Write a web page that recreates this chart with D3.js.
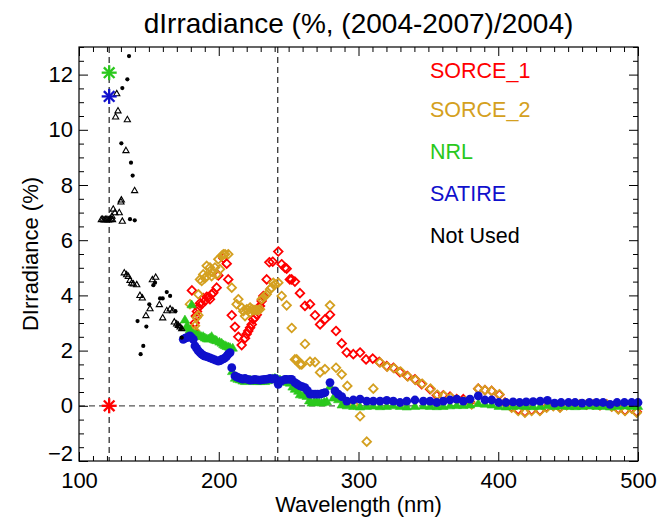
<!DOCTYPE html>
<html><head><meta charset="utf-8">
<script src="https://cdn.jsdelivr.net/npm/d3@7"></script>
<style>
html,body{margin:0;padding:0;background:#fff;}
svg{display:block;font-family:"Liberation Sans",Arial,sans-serif;}
</style></head>
<body><svg id="c" width="659" height="518"></svg>
<script>
// ---------------- data ----------------
const TITLE = "dIrradiance (%, (2004-2007)/2004)";
const X_LABEL = "Wavelength (nm)";
const Y_LABEL = "DIrradiance (%)";
const X_TICKS = [100, 200, 300, 400, 500];
const Y_TICKS = [-2, 0, 2, 4, 6, 8, 10, 12];
const X_DOMAIN = [100, 500];
const Y_DOMAIN = [-2, 13];
const V_LINES = [121.6, 242.2];
const H_LINES = [0];
const LEGEND = ["SORCE_1", "SORCE_2", "NRL", "SATIRE", "Not Used"];

const sorce1 = [
[180.8,4.18],[181.8,2.75],[182.8,3.00],[183.6,3.25],[184.4,3.42],[185.4,3.56],[186.6,3.72],[187.8,3.68],
[188.9,3.90],[190.1,3.80],[191.4,3.95],[192.5,3.92],[193.7,3.86],[194.9,4.04],[196.1,4.10],[198.5,4.28],
[199.7,4.72],[203.3,5.35],[205.7,5.15],[206.8,4.58],[209.3,3.28],[211.6,2.86],[214.0,2.50],[216.4,2.20],
[218.8,2.45],[220.0,2.60],[221.1,2.71],[222.4,2.83],[223.6,2.95],[224.7,3.13],[225.9,3.20],[227.2,3.30],
[228.3,3.50],[229.5,3.62],[230.7,3.80],[231.9,3.98],[234.3,4.58],[236.2,5.20],[238.6,5.22],[242.6,5.59],
[245.0,5.13],[247.4,5.00],[248.6,4.97],[250.9,4.58],[252.2,4.58],[254.5,4.50],[258.1,4.08],[261.7,3.62],
[265.3,3.68],[268.9,3.28],[272.5,2.95],[276.0,3.13],[279.6,3.30],[283.9,2.71],[288.0,2.26],[291.6,1.93],
[296.3,1.87],[301.1,1.93],[305.4,1.68],[310.2,1.71],[314.9,1.59],[320.2,1.44],[325.0,1.38],[329.7,1.22],
[334.9,1.08],[340.4,0.96],[345.2,0.78],[351.2,0.60],[356.0,0.38],[360.7,0.38],[365.5,0.33],[370.3,0.24],
[375.0,0.24],[379.8,0.14],[385.7,0.62],[390.5,0.57],[395.3,0.54],[400.8,0.40],[404.8,0.12],[409.6,-0.05],
[414.3,-0.15],[419.1,-0.22],[423.9,-0.16],[429.8,-0.17],[434.6,-0.05],[439.4,0.00],[444.2,-0.05],[449.0,0.03],
[453.7,0.05],[458.5,0.05],[463.3,0.04],[468.1,0.05],[472.8,0.02],[477.6,0.05],[481.2,-0.02],[485.9,-0.11],
[490.7,-0.17],[495.5,-0.08],[499.1,-0.22]
];

const sorce2 = [
[179.4,3.68],[183.0,2.72],[183.0,2.90],[184.2,3.20],[185.4,3.28],[185.4,4.04],[186.6,4.58],[187.8,4.52],
[188.9,4.76],[190.1,4.62],[191.4,4.70],[191.4,5.07],[193.7,5.01],[194.9,4.70],[195.5,4.85],[197.3,5.01],
[198.5,4.76],[199.7,5.31],[200.9,4.95],[202.1,5.43],[203.3,5.49],[204.5,5.49],[206.8,5.49],[209.3,4.28],
[212.8,3.68],[214.0,3.86],[216.4,3.56],[217.6,3.43],[218.8,3.25],[220.0,3.50],[221.1,3.47],[222.4,3.38],
[222.4,3.56],[223.6,3.50],[224.7,3.47],[225.9,3.47],[227.2,3.47],[228.3,3.47],[229.5,3.50],[230.7,3.86],
[231.9,3.92],[233.1,3.98],[234.3,4.04],[236.7,4.22],[237.8,4.28],[239.0,4.46],[240.2,4.40],[242.6,4.46],
[245.0,3.98],[248.6,3.64],[252.2,2.82],[254.5,1.68],[255.8,1.68],[258.1,1.50],[259.4,1.50],[261.7,2.24],
[265.3,1.60],[268.9,1.58],[272.5,1.21],[276.0,1.33],[279.6,3.64],[283.9,1.38],[288.0,1.14],[292.0,0.72],
[296.5,0.05],[301.1,-0.38],[305.9,-1.30],[310.6,0.62],[315.4,1.57],[320.6,1.42],[325.4,1.36],[330.2,1.24],
[335.3,1.06],[340.8,0.94],[345.6,0.80],[351.6,0.62],[356.4,0.40],[361.1,0.37],[366.0,0.30],[370.8,0.22],
[376.2,0.17],[381.0,0.05],[385.7,0.62],[390.5,0.57],[395.3,0.54],[400.8,0.42],[404.8,0.12],[409.6,-0.07],
[414.3,-0.19],[419.1,-0.25],[423.9,-0.19],[429.8,-0.19],[434.6,-0.07],[439.4,-0.01],[444.2,-0.07],[449.0,0.02],
[453.7,0.05],[458.5,0.05],[463.3,0.05],[468.1,0.05],[472.8,0.02],[477.6,0.05],[481.2,-0.03],[485.9,-0.13],
[490.7,-0.19],[495.5,-0.10],[499.1,-0.25]
];

const nrl = [
[175.8,3.13],[177.1,2.90],[178.2,2.85],[179.4,2.77],[180.6,3.68],[181.8,2.62],[183.0,2.60],[184.2,2.59],
[185.4,2.57],[186.6,2.55],[187.8,2.53],[188.9,2.53],[190.1,2.48],[191.4,2.45],[192.5,2.44],[193.7,2.47],
[194.9,2.53],[196.5,2.42],[197.5,2.40],[198.5,2.38],[200.5,2.33],[202.1,2.29],[203.3,2.23],[204.5,2.20],
[205.7,2.17],[207.0,2.15],[208.1,2.13],[210.0,2.11],[209.6,1.26],[211.6,1.02],[213.5,0.98],[215.2,0.96],
[217.0,0.92],[218.8,0.90],[220.6,0.93],[222.4,0.96],[224.2,0.92],[225.9,0.90],[227.7,0.90],[229.5,0.90],
[231.3,0.92],[233.1,0.90],[234.9,0.93],[236.7,0.96],[238.5,1.00],[240.2,1.02],[242.0,0.99],[243.8,0.96],
[245.6,0.93],[247.4,0.90],[249.2,0.87],[251.0,0.84],[252.8,0.70],[254.5,0.62],[256.9,0.55],[258.1,0.42],
[260.5,0.40],[262.9,0.36],[264.7,0.20],[266.5,0.12],[268.3,0.15],[270.1,0.17],[271.9,0.14],[273.7,0.12],
[275.5,0.15],[277.3,0.17],[279.6,0.72],[282.0,0.30],[285.5,0.24],[288.0,0.05],[291.6,0.02],[296.3,0.00],
[301.1,-0.02],[305.9,0.00],[310.6,0.01],[315.4,-0.01],[320.2,0.00],[324.9,0.02],[329.7,0.00],[334.5,-0.02],
[340.4,0.00],[346.4,0.01],[351.2,0.00],[356.0,-0.01],[360.7,0.00],[365.5,0.02],[370.3,0.03],[375.0,0.03],
[379.8,0.05],[385.7,0.10],[390.5,0.08],[395.3,0.05],[400.3,0.00],[405.5,-0.02],[410.6,0.00],[415.3,0.01],
[420.0,0.00],[425.0,-0.01],[430.0,0.00],[435.2,0.02],[440.3,0.00],[445.0,0.01],[450.3,0.00],[455.0,-0.01],
[460.0,0.00],[465.2,0.01],[470.3,0.00],[475.0,0.00],[480.0,-0.02],[485.0,0.00],[490.3,0.01],[495.5,0.00],
[500.0,0.00]
];

const satire = [
[174.6,2.41],[176.0,2.45],[177.1,2.47],[178.2,2.50],[179.4,2.53],[180.6,2.47],[181.8,2.41],[183.0,2.17],
[184.2,2.08],[185.4,1.99],[186.6,1.93],[187.8,1.87],[189.0,1.83],[190.1,1.80],[191.9,1.77],[193.7,1.74],
[195.5,1.70],[197.3,1.66],[199.7,1.62],[201.0,1.64],[202.1,1.68],[203.3,1.70],[204.5,1.74],[205.7,1.80],
[206.8,1.87],[208.1,1.93],[209.3,1.38],[211.6,1.08],[212.8,1.05],[214.0,1.02],[215.5,0.99],[217.2,0.97],
[218.8,0.99],[220.6,0.96],[222.4,0.93],[224.2,0.94],[225.9,0.96],[227.7,0.94],[229.5,0.93],[231.3,0.95],
[233.1,0.96],[234.9,0.97],[236.7,0.99],[238.5,0.97],[240.3,0.99],[242.6,0.78],[243.8,0.90],[245.0,0.90],
[247.4,0.96],[248.6,0.96],[251.0,0.96],[252.2,0.96],[254.5,0.84],[256.3,0.78],[258.1,0.72],[259.9,0.69],
[261.7,0.66],[263.5,0.55],[265.3,0.42],[267.1,0.42],[268.9,0.42],[270.7,0.42],[272.5,0.42],[274.3,0.45],
[276.0,0.48],[279.6,0.84],[283.2,0.54],[285.5,0.42],[288.0,0.33],[291.6,0.17],[296.3,0.21],[301.1,0.24],
[305.9,0.17],[310.6,0.17],[315.4,0.17],[320.2,0.20],[324.9,0.17],[329.7,0.12],[334.5,0.17],[340.4,0.21],
[346.4,0.17],[351.2,0.17],[356.0,0.12],[360.7,0.17],[365.5,0.21],[370.3,0.24],[375.0,0.17],[379.8,0.24],
[385.7,0.36],[390.5,0.21],[395.3,0.21],[400.3,0.12],[405.5,0.12],[410.6,0.14],[415.3,0.12],[420.0,0.14],
[425.0,0.15],[430.0,0.17],[435.2,0.20],[440.3,0.10],[445.0,0.12],[450.3,0.12],[455.0,0.12],[460.0,0.10],
[465.2,0.12],[470.3,0.12],[475.0,0.12],[480.0,0.05],[485.0,0.12],[490.3,0.12],[495.5,0.12],[500.0,0.12]
];

const notUsedDots = [
[135.8,12.67],[134.6,11.83],[131.0,11.51],[130.3,9.51],[137.2,8.81],[138.4,8.34],[136.5,6.76],[139.9,6.72],
[153.2,4.37],[154.4,4.46],[162.8,4.12],[165.2,3.98],[158.0,3.89],[159.9,3.89],[150.3,3.68],[169.0,3.43],
[141.9,3.07],[148.2,2.87],[173.5,2.47],[146.0,2.17],[144.1,1.87],[170.5,2.92],[172.9,2.80]
];

const notUsedTri = [
[127.0,11.32],[127.9,10.70],[126.2,10.48],[134.6,10.38],[133.6,9.26],[139.8,7.81],[130.3,7.47],[130.0,7.40],
[124.5,7.14],[125.7,7.01],[128.8,7.01],[123.6,6.88],[116.0,6.76],[117.0,6.77],[118.0,6.75],[119.0,6.76],
[120.0,6.77],[121.0,6.75],[122.0,6.76],[123.0,6.78],[124.0,6.76],[131.0,6.70],[132.4,4.83],[134.1,4.76],
[135.3,4.70],[136.5,4.56],[137.7,4.46],[138.9,4.43],[141.3,4.40],[143.6,4.01],[145.3,3.92],[154.9,4.67],
[152.5,4.58],[157.5,3.68],[150.8,3.53],[162.8,3.46],[165.2,3.52],[167.1,3.46],[147.9,3.28],[159.9,3.20],
[168.2,3.05],[169.9,2.98],[171.1,2.93],[172.3,2.87],[173.5,2.81]
];

// Lyman-alpha values (asterisks): [wavelength, value, series]
const lyaStars = [[121.6,0.0,"SORCE_1"],[121.6,12.07,"NRL"],[121.6,11.21,"SATIRE"]];

// ---------------- drawing ----------------
const COLORS = {"SORCE_1":"#ff0000","SORCE_2":"#d4a020","NRL":"#2ac81c","SATIRE":"#1010cc","Not Used":"#000000"};
const W = 659, H = 518;
const M = {left:79, right:659-638, top:47, bottom:518-461};
const svg = d3.select("#c");
const x = d3.scaleLinear().domain(X_DOMAIN).range([M.left, W-M.right]);
const y = d3.scaleLinear().domain(Y_DOMAIN).range([H-M.bottom, M.top]);
const X0 = M.left, X1 = W-M.right, Y0 = M.top, Y1 = H-M.bottom;

// dashed reference lines
const ref = svg.append("g").attr("stroke","#333").attr("stroke-width",1.3).attr("stroke-dasharray","6,4");
V_LINES.forEach(v => ref.append("line").attr("x1",x(v)).attr("x2",x(v)).attr("y1",Y0).attr("y2",Y1));
H_LINES.forEach(v => ref.append("line").attr("x1",X0).attr("x2",X1).attr("y1",y(v)).attr("y2",y(v)).attr("stroke","#555"));

// markers
const diamond = r => `M0,${-r}L${r},0L0,${r}L${-r},0Z`;
function plotDiamonds(data, color){
  svg.append("g").selectAll("path").data(data).join("path")
    .attr("d", diamond(4.3)).attr("transform", d=>`translate(${x(d[0])},${y(d[1])})`)
    .attr("fill","none").attr("stroke",color).attr("stroke-width",1.8);
}
plotDiamonds(sorce1, COLORS["SORCE_1"]);
plotDiamonds(sorce2, COLORS["SORCE_2"]);

svg.append("g").selectAll("path").data(nrl).join("path")
  .attr("d","M0,-4.3L4.7,3.6L-4.7,3.6Z")
  .attr("transform", d=>`translate(${x(d[0])},${y(d[1])})`)
  .attr("fill",COLORS["NRL"]).attr("stroke",COLORS["NRL"]).attr("stroke-width",0.6);

svg.append("g").selectAll("circle").data(satire).join("circle")
  .attr("cx",d=>x(d[0])).attr("cy",d=>y(d[1])).attr("r",4.4).attr("fill",COLORS["SATIRE"]);

svg.append("g").selectAll("path").data(notUsedTri).join("path")
  .attr("d","M0,-3L3.1,2.4L-3.1,2.4Z")
  .attr("transform", d=>`translate(${x(d[0])},${y(d[1])})`)
  .attr("fill","none").attr("stroke","#000").attr("stroke-width",1.1);
svg.append("g").selectAll("circle").data(notUsedDots).join("circle")
  .attr("cx",d=>x(d[0])).attr("cy",d=>y(d[1])).attr("r",2.1).attr("fill","#000");

// asterisks
const star = svg.append("g");
lyaStars.forEach(s => {
  const g = star.append("g").attr("transform",`translate(${x(s[0])},${y(s[1])})`)
    .attr("stroke",COLORS[s[2]]).attr("stroke-width",2.3).attr("stroke-linecap","butt");
  const r = 7.5, d = 5.3;
  g.append("line").attr("x1",-r).attr("x2",r).attr("y1",0).attr("y2",0);
  g.append("line").attr("x1",0).attr("x2",0).attr("y1",-r).attr("y2",r);
  g.append("line").attr("x1",-d).attr("x2",d).attr("y1",-d).attr("y2",d);
  g.append("line").attr("x1",-d).attr("x2",d).attr("y1",d).attr("y2",-d);
});

// axes (ticks inward on all four sides)
const xMinor = d3.range(X_DOMAIN[0], X_DOMAIN[1]+1, 10).filter(v => !X_TICKS.includes(v));
const yMinor = d3.range(Y_DOMAIN[0], Y_DOMAIN[1]+0.01, 0.5).filter(v => !Y_TICKS.includes(v));
const MAJ = 9, MIN = 5;
function styleAxis(g){ g.select(".domain").remove(); g.selectAll("line").attr("stroke","#000").attr("stroke-width",1); }

svg.append("g").attr("transform",`translate(0,${Y1})`)
  .call(d3.axisBottom(x).tickValues(X_TICKS).tickSizeInner(-MAJ).tickSizeOuter(0).tickPadding(11).tickFormat(d3.format("d")))
  .call(styleAxis)
  .call(g => g.selectAll("text").attr("font-size",22).attr("fill","#000").attr("font-family","Liberation Sans, Arial, sans-serif"));
svg.append("g").attr("transform",`translate(0,${Y1})`)
  .call(d3.axisBottom(x).tickValues(xMinor).tickSizeInner(-MIN).tickSizeOuter(0).tickFormat(""))
  .call(styleAxis);
svg.append("g").attr("transform",`translate(0,${Y0})`)
  .call(d3.axisTop(x).tickValues(X_TICKS).tickSizeInner(-MAJ).tickSizeOuter(0).tickFormat(""))
  .call(styleAxis);
svg.append("g").attr("transform",`translate(0,${Y0})`)
  .call(d3.axisTop(x).tickValues(xMinor).tickSizeInner(-MIN).tickSizeOuter(0).tickFormat(""))
  .call(styleAxis);

svg.append("g").attr("transform",`translate(${X0},0)`)
  .call(d3.axisLeft(y).tickValues(Y_TICKS).tickSizeInner(-MAJ).tickSizeOuter(0).tickPadding(6).tickFormat(d3.format("d")))
  .call(styleAxis)
  .call(g => g.selectAll("text").attr("font-size",22).attr("fill","#000").attr("font-family","Liberation Sans, Arial, sans-serif"))
  .call(g => g.selectAll(".tick").filter(d => d === Y_DOMAIN[0]).select("text").attr("y",-8));
svg.append("g").attr("transform",`translate(${X0},0)`)
  .call(d3.axisLeft(y).tickValues(yMinor).tickSizeInner(-MIN).tickSizeOuter(0).tickFormat(""))
  .call(styleAxis);
svg.append("g").attr("transform",`translate(${X1},0)`)
  .call(d3.axisRight(y).tickValues(Y_TICKS).tickSizeInner(-MAJ).tickSizeOuter(0).tickFormat(""))
  .call(styleAxis);
svg.append("g").attr("transform",`translate(${X1},0)`)
  .call(d3.axisRight(y).tickValues(yMinor).tickSizeInner(-MIN).tickSizeOuter(0).tickFormat(""))
  .call(styleAxis);

// frame
svg.append("rect").attr("x",X0).attr("y",Y0).attr("width",X1-X0).attr("height",Y1-Y0)
  .attr("fill","none").attr("stroke","#000").attr("stroke-width",1.2);

// titles
svg.append("text").attr("x",(X0+X1)/2).attr("y",33).attr("text-anchor","middle")
  .attr("font-size",28).text(TITLE);
svg.append("text").attr("x",(X0+X1)/2).attr("y",512).attr("text-anchor","middle")
  .attr("font-size",22).text(X_LABEL);
svg.append("text").attr("transform",`translate(38,${(Y0+Y1)/2}) rotate(-90)`).attr("text-anchor","middle")
  .attr("font-size",22).text(Y_LABEL);

// legend
const LEG_Y = [78, 117, 159, 201, 243];
svg.append("g").selectAll("text").data(LEGEND).join("text")
  .attr("x",430).attr("y",(d,i)=>LEG_Y[i]).attr("font-size",21.5)
  .attr("fill",d=>COLORS[d]).text(d=>d);
</script></body></html>
